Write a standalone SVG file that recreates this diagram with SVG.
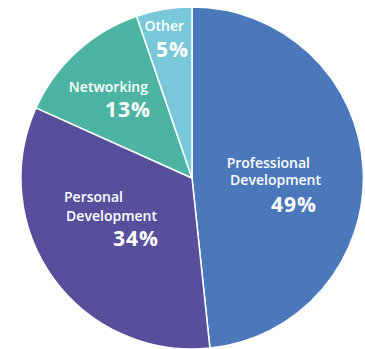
<svg xmlns="http://www.w3.org/2000/svg" width="365" height="349" viewBox="0 0 365 349">
<style>
.s{stroke:#fff;stroke-width:1.5;stroke-linejoin:round}
.l{font-family:"Open Sans","DejaVu Sans",sans-serif;font-weight:600;font-size:14px;fill:#fff;text-anchor:end}
.p{font-family:"Open Sans","DejaVu Sans",sans-serif;font-weight:700;font-size:21px;fill:#fff;text-anchor:end;letter-spacing:1px}
</style>
<rect width="365" height="349" fill="#fff"/>
<g id="professional">
<path class="s" fill="#4a78bb" d="M192,178 L192,7 A171,171 0 0 1 209.9,348.1 Z"/>
<text class="l" x="310" y="168">Professional</text>
<text class="l" x="321" y="185">Development</text>
<text class="p" x="317" y="212">49%</text>
</g>
<g id="personal">
<path class="s" fill="#574f9c" d="M192,178 L209.9,348.1 A171,171 0 0 1 36,107.9 Z"/>
<text class="l" x="123" y="202">Personal</text>
<text class="l" x="157" y="221">Development</text>
<text class="p" x="159" y="246">34%</text>
</g>
<g id="networking">
<path class="s" fill="#4db3a3" d="M192,178 L36,107.9 A171,171 0 0 1 136.6,16.2 Z"/>
<text class="l" x="148" y="92">Networking</text>
<text class="p" x="151" y="117">13%</text>
</g>
<g id="other">
<path class="s" fill="#79c8da" d="M192,178 L136.6,16.2 A171,171 0 0 1 192,7 Z"/>
<text class="l" x="184" y="31">Other</text>
<text class="p" x="189" y="57">5%</text>
</g>
<g id="connectors"/>
</svg>
